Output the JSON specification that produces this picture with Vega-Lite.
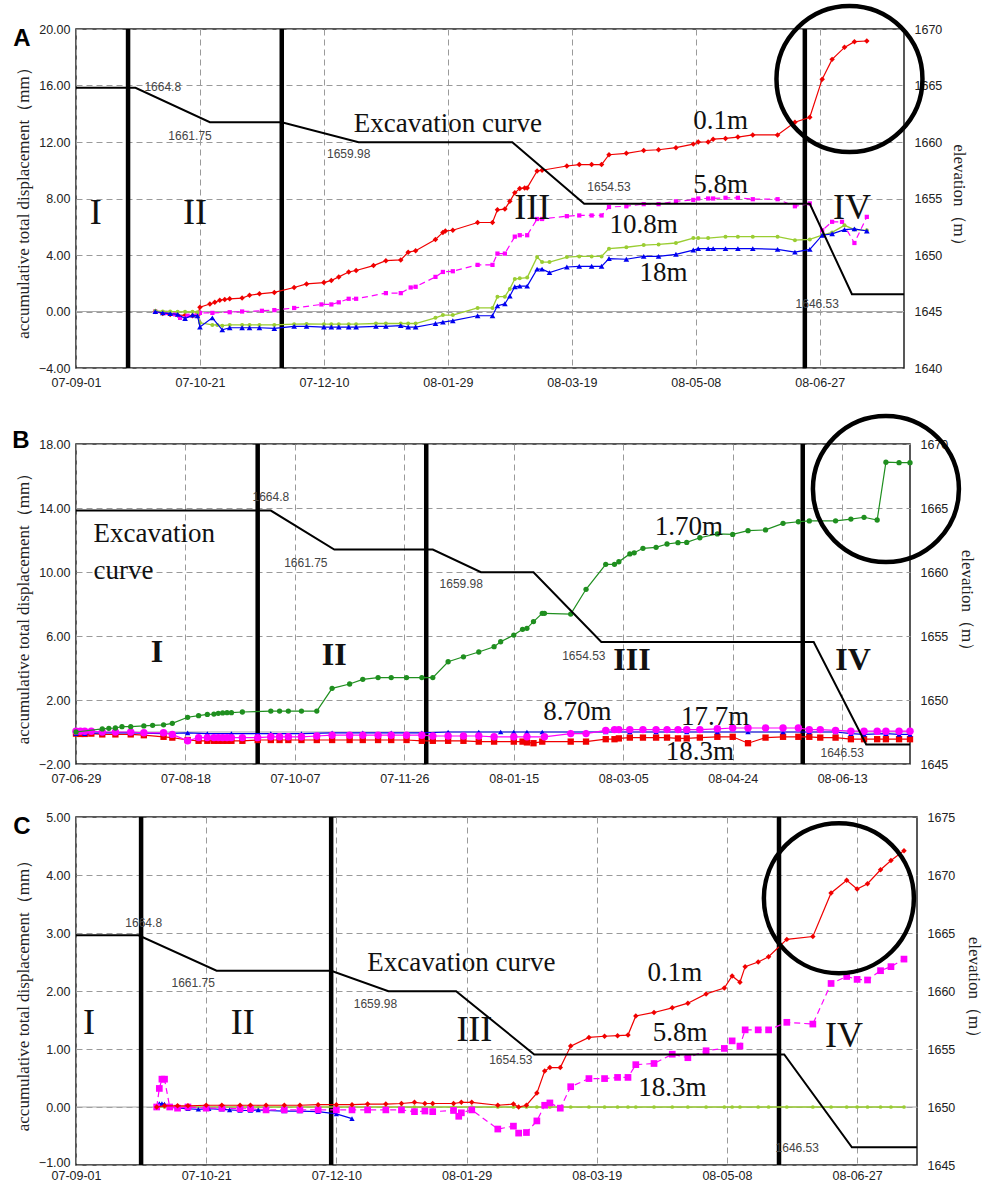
{
  "$schema": "https://vega.github.io/schema/vega-lite/v6.json",
  "padding": {"left": 11, "top": -4, "right": 5, "bottom": 0},
  "background": "white",
  "bounds": "flush",
  "spacing": 76,
  "config": {
    "view": {"stroke": "#222", "strokeWidth": 1.5},
    "axis": {"labelFont": "Liberation Sans", "labelFontSize": 12.5, "labelColor": "#222", "titleFont": "Liberation Serif", "titleFontSize": 17, "titleFontWeight": "normal", "titleColor": "#222", "ticks": false, "tickSize": 0, "domain": false, "gridColor": "#9a9a9a", "gridDash": [6, 4], "gridWidth": 1, "labelPadding": 6, "labelFlush": false, "labelOverlap": false},
    "text": {"font": "Liberation Serif", "color": "#111"}
  },
  "vconcat": [
    {
      "width": 828, "height": 339,
      "resolve": {"scale": {"y": "independent"}},
      "layer": [
        {
          "layer": [
            {"data": {"values": [{"v": 0}]}, "mark": {"type": "rule", "color": "#aaa", "strokeWidth": 1.2},
             "encoding": {"y": {"field": "v", "type": "quantitative", "scale": {"domain": [-4, 20], "nice": false, "zero": false}, "axis": {"values": [-4, 0, 4, 8, 12, 16, 20], "format": ".2f", "title": "accumulative total displacement（mm）", "grid": true, "titlePadding": 6}}}},
            {"data": {"values": [{"t": "2007-09-22"}, {"t": "2007-11-23"}, {"t": "2008-06-21"}]}, "mark": {"type": "rule", "color": "#000", "strokeWidth": 4.5},
             "encoding": {"x": {"field": "t", "type": "temporal", "scale": {"type": "utc", "domain": [{"year": 2007, "month": 9, "date": 1, "utc": true}, {"year": 2008, "month": 7, "date": 31, "utc": true}]}, "axis": {"values": [{"year": 2007, "month": 9, "date": 1, "utc": true}, {"year": 2007, "month": 10, "date": 21, "utc": true}, {"year": 2007, "month": 12, "date": 10, "utc": true}, {"year": 2008, "month": 1, "date": 29, "utc": true}, {"year": 2008, "month": 3, "date": 19, "utc": true}, {"year": 2008, "month": 5, "date": 8, "utc": true}, {"year": 2008, "month": 6, "date": 27, "utc": true}], "format": "%y-%m-%d", "title": null, "grid": true, "labelPadding": 8}}}},
            {"data": {"values": [{"t":"2007-10-03","v":0.0},{"t":"2007-10-06","v":-0.15},{"t":"2007-10-09","v":-0.22},{"t":"2007-10-12","v":-0.25},{"t":"2007-10-15","v":-0.27},{"t":"2007-10-18","v":-0.3},{"t":"2007-10-20","v":-0.3},{"t":"2007-10-21","v":0.3},{"t":"2007-10-25","v":0.53},{"t":"2007-10-27","v":0.65},{"t":"2007-10-29","v":0.8},{"t":"2007-10-31","v":0.85},{"t":"2007-11-02","v":0.9},{"t":"2007-11-07","v":0.95},{"t":"2007-11-10","v":1.15},{"t":"2007-11-14","v":1.25},{"t":"2007-11-20","v":1.35},{"t":"2007-11-28","v":1.7},{"t":"2007-12-03","v":1.95},{"t":"2007-12-10","v":2.05},{"t":"2007-12-13","v":2.2},{"t":"2007-12-16","v":2.45},{"t":"2007-12-20","v":2.8},{"t":"2007-12-23","v":2.9},{"t":"2007-12-30","v":3.25},{"t":"2008-01-04","v":3.6},{"t":"2008-01-10","v":3.65},{"t":"2008-01-13","v":4.2},{"t":"2008-01-16","v":4.3},{"t":"2008-01-24","v":5.1},{"t":"2008-01-27","v":5.6},{"t":"2008-01-28","v":5.7},{"t":"2008-01-31","v":5.75},{"t":"2008-02-10","v":6.3},{"t":"2008-02-16","v":6.3},{"t":"2008-02-18","v":7.2},{"t":"2008-02-21","v":7.25},{"t":"2008-02-23","v":7.8},{"t":"2008-02-25","v":8.4},{"t":"2008-02-27","v":8.7},{"t":"2008-02-29","v":8.75},{"t":"2008-03-01","v":8.75},{"t":"2008-03-05","v":9.95},{"t":"2008-03-07","v":10.0},{"t":"2008-03-17","v":10.3},{"t":"2008-03-22","v":10.4},{"t":"2008-03-27","v":10.4},{"t":"2008-03-31","v":10.4},{"t":"2008-04-03","v":11.1},{"t":"2008-04-10","v":11.2},{"t":"2008-04-17","v":11.4},{"t":"2008-04-23","v":11.45},{"t":"2008-04-30","v":11.6},{"t":"2008-05-07","v":11.85},{"t":"2008-05-09","v":12.0},{"t":"2008-05-13","v":12.0},{"t":"2008-05-15","v":12.2},{"t":"2008-05-20","v":12.25},{"t":"2008-05-25","v":12.35},{"t":"2008-05-31","v":12.5},{"t":"2008-06-10","v":12.5},{"t":"2008-06-17","v":13.4},{"t":"2008-06-23","v":13.75},{"t":"2008-06-28","v":16.45},{"t":"2008-07-02","v":17.85},{"t":"2008-07-07","v":18.7},{"t":"2008-07-11","v":19.1},{"t":"2008-07-16","v":19.15}]},
             "mark": {"type": "line", "color": "#f00000", "strokeWidth": 1.2, "point": {"shape": "diamond", "filled": true, "size": 30, "color": "#f00000"}},
             "encoding": {"x": {"field": "t", "type": "temporal"}, "y": {"field": "v", "type": "quantitative"}}},
            {"data": {"values": [{"t":"2007-10-03","v":0.0},{"t":"2007-10-07","v":-0.1},{"t":"2007-10-11","v":-0.2},{"t":"2007-10-13","v":-0.45},{"t":"2007-10-16","v":-0.3},{"t":"2007-10-20","v":-0.15},{"t":"2007-10-21","v":-0.1},{"t":"2007-10-26","v":-0.1},{"t":"2007-11-02","v":-0.05},{"t":"2007-11-07","v":0.0},{"t":"2007-11-15","v":0.05},{"t":"2007-11-20","v":0.1},{"t":"2007-11-28","v":0.25},{"t":"2007-12-09","v":0.5},{"t":"2007-12-13","v":0.5},{"t":"2007-12-16","v":0.65},{"t":"2007-12-20","v":0.9},{"t":"2007-12-23","v":0.9},{"t":"2008-01-04","v":1.3},{"t":"2008-01-10","v":1.3},{"t":"2008-01-14","v":1.7},{"t":"2008-01-16","v":1.75},{"t":"2008-01-24","v":2.45},{"t":"2008-01-27","v":2.8},{"t":"2008-01-31","v":2.85},{"t":"2008-02-10","v":3.3},{"t":"2008-02-16","v":3.3},{"t":"2008-02-18","v":4.1},{"t":"2008-02-21","v":4.1},{"t":"2008-02-25","v":5.3},{"t":"2008-02-27","v":5.4},{"t":"2008-03-01","v":5.4},{"t":"2008-03-05","v":6.55},{"t":"2008-03-07","v":6.55},{"t":"2008-03-17","v":6.75},{"t":"2008-03-22","v":6.8},{"t":"2008-03-27","v":6.8},{"t":"2008-03-31","v":6.8},{"t":"2008-04-03","v":7.4},{"t":"2008-04-10","v":7.45},{"t":"2008-04-17","v":7.6},{"t":"2008-04-23","v":7.6},{"t":"2008-04-30","v":7.8},{"t":"2008-05-07","v":7.9},{"t":"2008-05-09","v":8.0},{"t":"2008-05-13","v":8.0},{"t":"2008-05-15","v":8.0},{"t":"2008-05-20","v":8.05},{"t":"2008-05-25","v":8.05},{"t":"2008-05-31","v":7.95},{"t":"2008-06-10","v":7.95},{"t":"2008-06-17","v":7.45},{"t":"2008-06-23","v":7.65},{"t":"2008-06-28","v":5.75},{"t":"2008-07-02","v":6.35},{"t":"2008-07-06","v":6.35},{"t":"2008-07-11","v":4.85},{"t":"2008-07-16","v":6.7}]},
             "mark": {"type": "line", "color": "#ff00ff", "strokeWidth": 1.2, "strokeDash": [6, 4], "point": {"shape": "square", "filled": true, "size": 18, "color": "#ff00ff"}},
             "encoding": {"x": {"field": "t", "type": "temporal"}, "y": {"field": "v", "type": "quantitative"}}},
            {"data": {"values": [{"t":"2007-10-03","v":0.05},{"t":"2007-10-06","v":0.0},{"t":"2007-10-09","v":0.0},{"t":"2007-10-12","v":-0.02},{"t":"2007-10-15","v":-0.02},{"t":"2007-10-18","v":-0.02},{"t":"2007-10-20","v":-0.05},{"t":"2007-10-21","v":-0.8},{"t":"2007-10-26","v":-0.95},{"t":"2007-10-28","v":-0.95},{"t":"2007-10-30","v":-1.0},{"t":"2007-11-02","v":-0.95},{"t":"2007-11-07","v":-0.95},{"t":"2007-11-10","v":-0.95},{"t":"2007-11-14","v":-0.95},{"t":"2007-11-20","v":-0.95},{"t":"2007-11-28","v":-0.9},{"t":"2007-12-03","v":-0.88},{"t":"2007-12-10","v":-0.9},{"t":"2007-12-13","v":-0.9},{"t":"2007-12-16","v":-0.9},{"t":"2007-12-20","v":-0.9},{"t":"2007-12-23","v":-0.9},{"t":"2007-12-31","v":-0.85},{"t":"2008-01-04","v":-0.85},{"t":"2008-01-10","v":-0.85},{"t":"2008-01-13","v":-0.85},{"t":"2008-01-16","v":-0.85},{"t":"2008-01-24","v":-0.45},{"t":"2008-01-27","v":-0.25},{"t":"2008-01-31","v":-0.25},{"t":"2008-02-10","v":0.25},{"t":"2008-02-16","v":0.25},{"t":"2008-02-18","v":1.05},{"t":"2008-02-21","v":1.05},{"t":"2008-02-23","v":1.6},{"t":"2008-02-25","v":2.3},{"t":"2008-02-27","v":2.35},{"t":"2008-03-01","v":2.4},{"t":"2008-03-05","v":3.85},{"t":"2008-03-07","v":3.5},{"t":"2008-03-10","v":3.5},{"t":"2008-03-17","v":3.85},{"t":"2008-03-22","v":3.9},{"t":"2008-03-27","v":3.9},{"t":"2008-03-31","v":3.9},{"t":"2008-04-03","v":4.45},{"t":"2008-04-10","v":4.55},{"t":"2008-04-17","v":4.7},{"t":"2008-04-23","v":4.75},{"t":"2008-04-30","v":4.85},{"t":"2008-05-07","v":5.2},{"t":"2008-05-09","v":5.2},{"t":"2008-05-13","v":5.2},{"t":"2008-05-20","v":5.3},{"t":"2008-05-25","v":5.3},{"t":"2008-05-31","v":5.3},{"t":"2008-06-10","v":5.3},{"t":"2008-06-17","v":5.05},{"t":"2008-06-23","v":5.1},{"t":"2008-06-28","v":5.4},{"t":"2008-07-02","v":5.6},{"t":"2008-07-07","v":6.1},{"t":"2008-07-11","v":5.8},{"t":"2008-07-16","v":5.75}]},
             "mark": {"type": "line", "color": "#9acd32", "strokeWidth": 1.3, "point": {"shape": "circle", "filled": true, "size": 16, "color": "#9acd32"}},
             "encoding": {"x": {"field": "t", "type": "temporal"}, "y": {"field": "v", "type": "quantitative"}}},
            {"data": {"values": [{"t":"2007-10-03","v":0.0},{"t":"2007-10-06","v":-0.1},{"t":"2007-10-09","v":-0.15},{"t":"2007-10-12","v":-0.2},{"t":"2007-10-15","v":-0.5},{"t":"2007-10-18","v":-0.25},{"t":"2007-10-20","v":-0.3},{"t":"2007-10-21","v":-1.1},{"t":"2007-10-26","v":-0.45},{"t":"2007-10-30","v":-1.3},{"t":"2007-11-02","v":-1.15},{"t":"2007-11-07","v":-1.15},{"t":"2007-11-10","v":-1.15},{"t":"2007-11-14","v":-1.15},{"t":"2007-11-20","v":-1.2},{"t":"2007-11-28","v":-1.05},{"t":"2007-12-03","v":-1.05},{"t":"2007-12-10","v":-1.1},{"t":"2007-12-13","v":-1.1},{"t":"2007-12-16","v":-1.1},{"t":"2007-12-20","v":-1.1},{"t":"2007-12-23","v":-1.1},{"t":"2007-12-31","v":-1.05},{"t":"2008-01-04","v":-1.05},{"t":"2008-01-10","v":-1.0},{"t":"2008-01-13","v":-1.1},{"t":"2008-01-16","v":-1.1},{"t":"2008-01-24","v":-0.85},{"t":"2008-01-27","v":-0.75},{"t":"2008-01-31","v":-0.65},{"t":"2008-02-10","v":-0.3},{"t":"2008-02-16","v":-0.3},{"t":"2008-02-18","v":0.4},{"t":"2008-02-21","v":0.55},{"t":"2008-02-23","v":1.1},{"t":"2008-02-25","v":1.75},{"t":"2008-02-27","v":1.8},{"t":"2008-03-01","v":1.8},{"t":"2008-03-05","v":3.0},{"t":"2008-03-07","v":3.0},{"t":"2008-03-10","v":2.75},{"t":"2008-03-17","v":3.15},{"t":"2008-03-22","v":3.2},{"t":"2008-03-27","v":3.2},{"t":"2008-03-31","v":3.2},{"t":"2008-04-03","v":3.75},{"t":"2008-04-10","v":3.7},{"t":"2008-04-17","v":3.9},{"t":"2008-04-23","v":3.9},{"t":"2008-04-30","v":4.05},{"t":"2008-05-07","v":4.35},{"t":"2008-05-09","v":4.45},{"t":"2008-05-13","v":4.45},{"t":"2008-05-15","v":4.45},{"t":"2008-05-20","v":4.45},{"t":"2008-05-25","v":4.45},{"t":"2008-05-31","v":4.45},{"t":"2008-06-10","v":4.4},{"t":"2008-06-17","v":4.2},{"t":"2008-06-23","v":4.4},{"t":"2008-06-28","v":5.4},{"t":"2008-07-02","v":5.5},{"t":"2008-07-07","v":5.8},{"t":"2008-07-11","v":5.85},{"t":"2008-07-16","v":5.7}]},
             "mark": {"type": "line", "color": "#0000f0", "strokeWidth": 1.2, "point": {"shape": "triangle-up", "filled": true, "size": 32, "color": "#0000f0"}},
             "encoding": {"x": {"field": "t", "type": "temporal"}, "y": {"field": "v", "type": "quantitative"}}},
            {"data": {"values": [{"t":"2007-09-09","v":7.0,"label":"I"},{"t":"2007-10-19","v":7.0,"label":"II"},{"t":"2008-03-03","v":7.3,"label":"III"},{"t":"2008-07-10","v":7.3,"label":"IV"}]},
             "mark": {"type": "text", "fontSize": 36, "align": "center", "baseline": "middle"},
             "encoding": {"x": {"field": "t", "type": "temporal"}, "y": {"field": "v", "type": "quantitative"}, "text": {"field": "label"}}},
            {"data": {"values": [{"t":"2008-01-29","v":13.27,"label":"Excavation curve"},{"t":"2008-05-18","v":13.5,"label":"0.1m"},{"t":"2008-05-18","v":8.95,"label":"5.8m"},{"t":"2008-04-17","v":6.1,"label":"10.8m"},{"t":"2008-04-25","v":2.73,"label":"18m"}]},
             "mark": {"type": "text", "fontSize": 27, "align": "center", "baseline": "middle"},
             "encoding": {"x": {"field": "t", "type": "temporal"}, "y": {"field": "v", "type": "quantitative"}, "text": {"field": "label"}}},
            {"data": {"values": [{"t":"2007-10-06","v":15.9,"label":"1664.8"},{"t":"2007-10-17","v":12.4,"label":"1661.75"},{"t":"2007-12-20","v":11.15,"label":"1659.98"},{"t":"2008-04-03","v":8.8,"label":"1654.53"},{"t":"2008-06-26","v":0.53,"label":"1646.53"}]},
             "mark": {"type": "text", "font": "Liberation Sans", "fontSize": 12, "color": "#444", "align": "center", "baseline": "middle"},
             "encoding": {"x": {"field": "t", "type": "temporal"}, "y": {"field": "v", "type": "quantitative"}, "text": {"field": "label"}}},
            {"data": {"values": [{"t":"2008-07-09","v":16.46}]},
             "mark": {"type": "point", "shape": "circle", "filled": false, "size": 21316, "stroke": "#000", "strokeWidth": 4.5, "opacity": 1},
             "encoding": {"x": {"field": "t", "type": "temporal"}, "y": {"field": "v", "type": "quantitative"}}},
            {"data": {"values": [{"t":"2007-09-01","v":20,"label":"A"}]},
             "mark": {"type": "text", "font": "Liberation Sans", "fontWeight": "bold", "fontSize": 24, "color": "#000", "align": "center", "baseline": "middle", "dx": -54, "dy": 10},
             "encoding": {"x": {"field": "t", "type": "temporal"}, "y": {"field": "v", "type": "quantitative"}, "text": {"field": "label"}}}
          ]
        },
        {"data": {"values": [{"t":"2007-09-01","e":1664.8},{"t":"2007-09-25","e":1664.8},{"t":"2007-10-25","e":1661.75},{"t":"2007-11-23","e":1661.75},{"t":"2007-12-24","e":1659.98},{"t":"2008-02-24","e":1659.98},{"t":"2008-03-24","e":1654.53},{"t":"2008-06-23","e":1654.53},{"t":"2008-07-10","e":1646.53},{"t":"2008-07-31","e":1646.53}]},
         "mark": {"type": "line", "color": "#000", "strokeWidth": 2},
         "encoding": {"x": {"field": "t", "type": "temporal"}, "y": {"field": "e", "type": "quantitative", "scale": {"domain": [1640, 1670], "nice": false, "zero": false}, "axis": {"orient": "right", "values": [1640, 1645, 1650, 1655, 1660, 1665, 1670], "format": "d", "title": "elevation（m）", "grid": false, "labelPadding": 10, "titlePadding": 8}}}}
      ]
    },
    {
      "bounds": "flush",
      "spacing": 53,
      "vconcat": [
        {
          "width": 834, "height": 320,
          "resolve": {"scale": {"y": "independent"}},
          "layer": [
            {
              "layer": [
                {"data": {"values": [{"v": 0}]}, "mark": {"type": "rule", "color": "#aaa", "strokeWidth": 1.2},
                 "encoding": {"y": {"field": "v", "type": "quantitative", "scale": {"domain": [-2, 18], "nice": false, "zero": false}, "axis": {"values": [-2, 2, 6, 10, 14, 18], "format": ".2f", "title": "accumulative total displacement（mm）", "grid": true, "titlePadding": 6}}}},
                {"data": {"values": [{"t": "2007-09-20"}, {"t": "2007-12-06"}, {"t": "2008-05-26"}]}, "mark": {"type": "rule", "color": "#000", "strokeWidth": 4.5},
                 "encoding": {"x": {"field": "t", "type": "temporal", "scale": {"type": "utc", "domain": [{"year": 2007, "month": 6, "date": 29, "utc": true}, {"year": 2008, "month": 7, "date": 14, "utc": true}]}, "axis": {"values": [{"year": 2007, "month": 6, "date": 29, "utc": true}, {"year": 2007, "month": 8, "date": 18, "utc": true}, {"year": 2007, "month": 10, "date": 7, "utc": true}, {"year": 2007, "month": 11, "date": 26, "utc": true}, {"year": 2008, "month": 1, "date": 15, "utc": true}, {"year": 2008, "month": 3, "date": 5, "utc": true}, {"year": 2008, "month": 4, "date": 24, "utc": true}, {"year": 2008, "month": 6, "date": 13, "utc": true}], "format": "%y-%m-%d", "title": null, "grid": true, "labelPadding": 8}}}},
                {"data": {"values": [{"t":"2007-06-29","v":-0.1},{"t":"2007-07-01","v":-0.12},{"t":"2007-07-03","v":-0.12},{"t":"2007-07-06","v":-0.1},{"t":"2007-07-11","v":-0.15},{"t":"2007-07-17","v":-0.15},{"t":"2007-07-24","v":-0.15},{"t":"2007-07-30","v":-0.2},{"t":"2007-08-08","v":-0.3},{"t":"2007-08-12","v":-0.35},{"t":"2007-08-19","v":-0.5},{"t":"2007-08-24","v":-0.55},{"t":"2007-08-28","v":-0.55},{"t":"2007-08-31","v":-0.55},{"t":"2007-09-02","v":-0.55},{"t":"2007-09-04","v":-0.55},{"t":"2007-09-06","v":-0.55},{"t":"2007-09-08","v":-0.55},{"t":"2007-09-13","v":-0.55},{"t":"2007-09-20","v":-0.5},{"t":"2007-09-26","v":-0.5},{"t":"2007-09-30","v":-0.5},{"t":"2007-10-04","v":-0.5},{"t":"2007-10-10","v":-0.5},{"t":"2007-10-17","v":-0.5},{"t":"2007-10-24","v":-0.5},{"t":"2007-11-01","v":-0.5},{"t":"2007-11-07","v":-0.5},{"t":"2007-11-14","v":-0.5},{"t":"2007-11-20","v":-0.5},{"t":"2007-11-27","v":-0.5},{"t":"2007-12-04","v":-0.55},{"t":"2007-12-09","v":-0.55},{"t":"2007-12-16","v":-0.55},{"t":"2007-12-23","v":-0.55},{"t":"2007-12-30","v":-0.6},{"t":"2008-01-06","v":-0.6},{"t":"2008-01-15","v":-0.6},{"t":"2008-01-19","v":-0.6},{"t":"2008-01-21","v":-0.65},{"t":"2008-01-24","v":-0.7},{"t":"2008-01-28","v":-0.6},{"t":"2008-02-10","v":-0.6},{"t":"2008-02-17","v":-0.6},{"t":"2008-02-26","v":-0.45},{"t":"2008-03-01","v":-0.45},{"t":"2008-03-03","v":-0.4},{"t":"2008-03-08","v":-0.35},{"t":"2008-03-14","v":-0.35},{"t":"2008-03-20","v":-0.35},{"t":"2008-03-25","v":-0.35},{"t":"2008-03-30","v":-0.4},{"t":"2008-04-03","v":-0.4},{"t":"2008-04-09","v":-0.35},{"t":"2008-04-17","v":-0.3},{"t":"2008-04-24","v":-0.3},{"t":"2008-05-01","v":-0.7},{"t":"2008-05-09","v":-0.35},{"t":"2008-05-17","v":-0.3},{"t":"2008-05-24","v":-0.3},{"t":"2008-05-29","v":-0.3},{"t":"2008-06-03","v":-0.35},{"t":"2008-06-10","v":-0.35},{"t":"2008-06-17","v":-0.45},{"t":"2008-06-23","v":-0.45},{"t":"2008-06-29","v":-0.45},{"t":"2008-07-03","v":-0.45},{"t":"2008-07-09","v":-0.45},{"t":"2008-07-14","v":-0.45}]},
                 "mark": {"type": "line", "color": "#f00000", "strokeWidth": 1.2, "point": {"shape": "square", "filled": true, "size": 40, "color": "#f00000"}},
                 "encoding": {"x": {"field": "t", "type": "temporal"}, "y": {"field": "v", "type": "quantitative"}}},
                {"data": {"values": [{"t":"2007-06-29","v":-0.1},{"t":"2007-07-03","v":-0.1},{"t":"2007-07-11","v":-0.05},{"t":"2007-07-24","v":-0.05},{"t":"2007-08-08","v":-0.1},{"t":"2007-08-19","v":-0.05},{"t":"2007-08-28","v":-0.1},{"t":"2007-09-08","v":-0.1},{"t":"2007-09-26","v":-0.1},{"t":"2007-10-10","v":-0.1},{"t":"2007-10-24","v":-0.05},{"t":"2007-11-07","v":-0.05},{"t":"2007-11-20","v":-0.05},{"t":"2007-12-04","v":-0.05},{"t":"2007-12-16","v":0.0},{"t":"2007-12-30","v":0.0},{"t":"2008-01-09","v":0.0},{"t":"2008-01-15","v":0.0},{"t":"2008-01-21","v":0.0},{"t":"2008-01-28","v":0.0},{"t":"2008-02-10","v":0.0},{"t":"2008-02-17","v":0.0},{"t":"2008-02-26","v":0.0},{"t":"2008-03-08","v":0.0},{"t":"2008-03-20","v":0.0},{"t":"2008-04-03","v":0.0},{"t":"2008-04-17","v":0.0},{"t":"2008-05-01","v":0.0},{"t":"2008-05-17","v":0.0},{"t":"2008-05-29","v":0.0},{"t":"2008-06-10","v":0.0},{"t":"2008-06-17","v":-0.1},{"t":"2008-06-23","v":-0.15},{"t":"2008-07-03","v":-0.1},{"t":"2008-07-09","v":-0.15},{"t":"2008-07-14","v":-0.15}]},
                 "mark": {"type": "line", "color": "#0000f0", "strokeWidth": 1.2, "point": {"shape": "triangle-up", "filled": true, "size": 30, "color": "#0000f0"}},
                 "encoding": {"x": {"field": "t", "type": "temporal"}, "y": {"field": "v", "type": "quantitative"}}},
                {"data": {"values": [{"t":"2007-06-29","v":0.05},{"t":"2007-07-01","v":0.05},{"t":"2007-07-03","v":0.05},{"t":"2007-07-06","v":0.05},{"t":"2007-07-11","v":0.0},{"t":"2007-07-17","v":0.0},{"t":"2007-07-24","v":0.0},{"t":"2007-07-30","v":-0.05},{"t":"2007-08-08","v":-0.05},{"t":"2007-08-12","v":-0.15},{"t":"2007-08-19","v":-0.55},{"t":"2007-08-24","v":-0.35},{"t":"2007-08-28","v":-0.35},{"t":"2007-08-31","v":-0.35},{"t":"2007-09-02","v":-0.35},{"t":"2007-09-04","v":-0.35},{"t":"2007-09-06","v":-0.35},{"t":"2007-09-08","v":-0.35},{"t":"2007-09-13","v":-0.35},{"t":"2007-09-20","v":-0.35},{"t":"2007-09-26","v":-0.3},{"t":"2007-09-30","v":-0.3},{"t":"2007-10-04","v":-0.3},{"t":"2007-10-10","v":-0.3},{"t":"2007-10-17","v":-0.25},{"t":"2007-10-24","v":-0.2},{"t":"2007-11-01","v":-0.2},{"t":"2007-11-07","v":-0.2},{"t":"2007-11-14","v":-0.2},{"t":"2007-11-20","v":-0.2},{"t":"2007-11-27","v":-0.2},{"t":"2007-12-04","v":-0.2},{"t":"2007-12-09","v":-0.25},{"t":"2007-12-16","v":-0.25},{"t":"2007-12-23","v":-0.25},{"t":"2007-12-30","v":-0.25},{"t":"2008-01-06","v":-0.3},{"t":"2008-01-15","v":-0.3},{"t":"2008-01-21","v":-0.3},{"t":"2008-01-29","v":-0.3},{"t":"2008-02-10","v":-0.1},{"t":"2008-02-17","v":-0.1},{"t":"2008-02-26","v":0.1},{"t":"2008-03-01","v":0.15},{"t":"2008-03-03","v":0.15},{"t":"2008-03-08","v":0.15},{"t":"2008-03-14","v":0.15},{"t":"2008-03-20","v":0.15},{"t":"2008-03-25","v":0.15},{"t":"2008-03-30","v":0.15},{"t":"2008-04-03","v":0.15},{"t":"2008-04-09","v":0.15},{"t":"2008-04-17","v":0.2},{"t":"2008-04-24","v":0.25},{"t":"2008-05-01","v":0.25},{"t":"2008-05-09","v":0.25},{"t":"2008-05-17","v":0.25},{"t":"2008-05-24","v":0.25},{"t":"2008-05-29","v":0.15},{"t":"2008-06-03","v":0.15},{"t":"2008-06-10","v":0.1},{"t":"2008-06-17","v":0.05},{"t":"2008-06-23","v":0.05},{"t":"2008-06-29","v":0.05},{"t":"2008-07-03","v":0.05},{"t":"2008-07-09","v":0.05},{"t":"2008-07-14","v":0.05}]},
                 "mark": {"type": "line", "color": "#ff00ff", "strokeWidth": 1.2, "point": {"shape": "circle", "filled": true, "size": 55, "color": "#ff00ff"}},
                 "encoding": {"x": {"field": "t", "type": "temporal"}, "y": {"field": "v", "type": "quantitative"}}},
                {"data": {"values": [{"t":"2007-06-29","v":0.0},{"t":"2007-07-11","v":0.19},{"t":"2007-07-14","v":0.23},{"t":"2007-07-17","v":0.25},{"t":"2007-07-20","v":0.33},{"t":"2007-07-24","v":0.33},{"t":"2007-07-30","v":0.38},{"t":"2007-08-03","v":0.42},{"t":"2007-08-08","v":0.45},{"t":"2007-08-12","v":0.54},{"t":"2007-08-19","v":0.92},{"t":"2007-08-24","v":1.02},{"t":"2007-08-28","v":1.1},{"t":"2007-08-31","v":1.12},{"t":"2007-09-02","v":1.17},{"t":"2007-09-04","v":1.19},{"t":"2007-09-06","v":1.21},{"t":"2007-09-08","v":1.21},{"t":"2007-09-13","v":1.25},{"t":"2007-09-26","v":1.31},{"t":"2007-09-30","v":1.31},{"t":"2007-10-04","v":1.31},{"t":"2007-10-10","v":1.31},{"t":"2007-10-17","v":1.31},{"t":"2007-10-24","v":2.73},{"t":"2007-11-01","v":3.0},{"t":"2007-11-07","v":3.29},{"t":"2007-11-14","v":3.4},{"t":"2007-11-20","v":3.4},{"t":"2007-11-27","v":3.4},{"t":"2007-12-04","v":3.4},{"t":"2007-12-09","v":3.4},{"t":"2007-12-16","v":4.39},{"t":"2007-12-23","v":4.7},{"t":"2007-12-30","v":5.0},{"t":"2008-01-06","v":5.33},{"t":"2008-01-09","v":5.64},{"t":"2008-01-15","v":6.06},{"t":"2008-01-19","v":6.42},{"t":"2008-01-21","v":6.48},{"t":"2008-01-24","v":6.9},{"t":"2008-01-28","v":7.42},{"t":"2008-01-29","v":7.42},{"t":"2008-02-10","v":7.37},{"t":"2008-02-17","v":8.92},{"t":"2008-02-26","v":10.48},{"t":"2008-03-01","v":10.48},{"t":"2008-03-03","v":10.64},{"t":"2008-03-08","v":11.13},{"t":"2008-03-10","v":11.2},{"t":"2008-03-14","v":11.48},{"t":"2008-03-20","v":11.54},{"t":"2008-03-25","v":11.75},{"t":"2008-03-30","v":11.83},{"t":"2008-04-03","v":11.85},{"t":"2008-04-09","v":12.14},{"t":"2008-04-17","v":12.38},{"t":"2008-04-24","v":12.35},{"t":"2008-05-01","v":12.58},{"t":"2008-05-09","v":12.63},{"t":"2008-05-17","v":13.04},{"t":"2008-05-24","v":13.14},{"t":"2008-05-29","v":13.19},{"t":"2008-06-10","v":13.2},{"t":"2008-06-17","v":13.31},{"t":"2008-06-23","v":13.42},{"t":"2008-06-29","v":13.25},{"t":"2008-07-03","v":16.86},{"t":"2008-07-09","v":16.83},{"t":"2008-07-14","v":16.83}]},
                 "mark": {"type": "line", "color": "#1f8f1f", "strokeWidth": 1.2, "point": {"shape": "circle", "filled": true, "size": 28, "color": "#1f8f1f"}},
                 "encoding": {"x": {"field": "t", "type": "temporal"}, "y": {"field": "v", "type": "quantitative"}}},
                {"data": {"values": [{"t":"2007-08-05","v":5.0,"label":"I"},{"t":"2007-10-25","v":4.81,"label":"II"},{"t":"2008-03-09","v":4.5,"label":"III"},{"t":"2008-06-18","v":4.5,"label":"IV"}]},
                 "mark": {"type": "text", "fontSize": 32, "fontWeight": "bold", "align": "center", "baseline": "middle"},
                 "encoding": {"x": {"field": "t", "type": "temporal"}, "y": {"field": "v", "type": "quantitative"}, "text": {"field": "label"}}},
                {"data": {"values": [{"t":"2007-07-07","v":12.4,"label":"Excavation\ncurve"}]},
                 "mark": {"type": "text", "fontSize": 27, "align": "left", "baseline": "middle", "lineBreak": "\n", "lineHeight": 37},
                 "encoding": {"x": {"field": "t", "type": "temporal"}, "y": {"field": "v", "type": "quantitative"}, "text": {"field": "label"}}},
                {"data": {"values": [{"t":"2008-04-04","v":12.81,"label":"1.70m"},{"t":"2008-02-13","v":1.25,"label":"8.70m"},{"t":"2008-04-16","v":0.94,"label":"17.7m"},{"t":"2008-04-09","v":-1.25,"label":"18.3m"}]},
                 "mark": {"type": "text", "fontSize": 27, "align": "center", "baseline": "middle"},
                 "encoding": {"x": {"field": "t", "type": "temporal"}, "y": {"field": "v", "type": "quantitative"}, "text": {"field": "label"}}},
                {"data": {"values": [{"t":"2007-09-26","v":14.69,"label":"1664.8"},{"t":"2007-10-12","v":10.56,"label":"1661.75"},{"t":"2007-12-22","v":9.25,"label":"1659.98"},{"t":"2008-02-16","v":4.75,"label":"1654.53"},{"t":"2008-06-13","v":-1.31,"label":"1646.53"}]},
                 "mark": {"type": "text", "font": "Liberation Sans", "fontSize": 12, "color": "#444", "align": "center", "baseline": "middle"},
                 "encoding": {"x": {"field": "t", "type": "temporal"}, "y": {"field": "v", "type": "quantitative"}, "text": {"field": "label"}}},
                {"data": {"values": [{"t":"2008-07-03","v":15.19}]},
                 "mark": {"type": "point", "shape": "circle", "filled": false, "size": 21316, "stroke": "#000", "strokeWidth": 4.5, "opacity": 1},
                 "encoding": {"x": {"field": "t", "type": "temporal"}, "y": {"field": "v", "type": "quantitative"}}},
                {"data": {"values": [{"t":"2007-06-29","v":18,"label":"B"}]},
                 "mark": {"type": "text", "font": "Liberation Sans", "fontWeight": "bold", "fontSize": 24, "color": "#000", "align": "center", "baseline": "middle", "dx": -55, "dy": -3},
                 "encoding": {"x": {"field": "t", "type": "temporal"}, "y": {"field": "v", "type": "quantitative"}, "text": {"field": "label"}}}
              ]
            },
            {"data": {"values": [{"t":"2007-06-29","e":1664.8},{"t":"2007-09-26","e":1664.8},{"t":"2007-10-25","e":1661.75},{"t":"2007-12-09","e":1661.75},{"t":"2007-12-31","e":1659.98},{"t":"2008-01-24","e":1659.98},{"t":"2008-02-24","e":1654.53},{"t":"2008-05-31","e":1654.53},{"t":"2008-06-24","e":1646.53},{"t":"2008-07-14","e":1646.53}]},
             "mark": {"type": "line", "color": "#000", "strokeWidth": 2},
             "encoding": {"x": {"field": "t", "type": "temporal"}, "y": {"field": "e", "type": "quantitative", "scale": {"domain": [1645, 1670], "nice": false, "zero": false}, "axis": {"orient": "right", "values": [1645, 1650, 1655, 1660, 1665, 1670], "format": "d", "title": "elevation（m）", "grid": false, "labelPadding": 10, "titlePadding": 10}}}}
          ]
        },
        {
          "width": 841, "height": 348,
          "resolve": {"scale": {"y": "independent"}},
          "layer": [
            {
              "layer": [
                {"data": {"values": [{"v": 0}]}, "mark": {"type": "rule", "color": "#aaa", "strokeWidth": 1.2},
                 "encoding": {"y": {"field": "v", "type": "quantitative", "scale": {"domain": [-1, 5], "nice": false, "zero": false}, "axis": {"values": [-1, 0, 1, 2, 3, 4, 5], "format": ".2f", "title": "accumulative total displacement（mm）", "grid": true, "titlePadding": 6, "labelOffset": {"condition": {"test": "datum.value === -1", "value": -3}, "value": 0}}}}},
                {"data": {"values": [{"t": "2007-09-26"}, {"t": "2007-12-08"}, {"t": "2008-05-28"}]}, "mark": {"type": "rule", "color": "#000", "strokeWidth": 4.5},
                 "encoding": {"x": {"field": "t", "type": "temporal", "scale": {"type": "utc", "domain": [{"year": 2007, "month": 9, "date": 1, "utc": true}, {"year": 2008, "month": 7, "date": 20, "utc": true}]}, "axis": {"values": [{"year": 2007, "month": 9, "date": 1, "utc": true}, {"year": 2007, "month": 10, "date": 21, "utc": true}, {"year": 2007, "month": 12, "date": 10, "utc": true}, {"year": 2008, "month": 1, "date": 29, "utc": true}, {"year": 2008, "month": 3, "date": 19, "utc": true}, {"year": 2008, "month": 5, "date": 8, "utc": true}, {"year": 2008, "month": 6, "date": 27, "utc": true}], "format": "%y-%m-%d", "title": null, "grid": true, "labelPadding": 4.5}}}},
                {"data": {"values": [{"t":"2007-10-02","v":0.0},{"t":"2007-10-05","v":0.0},{"t":"2007-10-10","v":0.0},{"t":"2007-10-14","v":0.0},{"t":"2007-10-21","v":0.0},{"t":"2007-10-27","v":0.0},{"t":"2007-11-03","v":0.0},{"t":"2007-11-10","v":0.0},{"t":"2007-11-20","v":0.0},{"t":"2007-11-26","v":0.0},{"t":"2007-12-03","v":0.0},{"t":"2007-12-10","v":0.0},{"t":"2007-12-16","v":0.0},{"t":"2007-12-22","v":0.0},{"t":"2007-12-29","v":0.0},{"t":"2008-01-04","v":0.0},{"t":"2008-01-09","v":0.0},{"t":"2008-01-16","v":0.0},{"t":"2008-01-24","v":0.0},{"t":"2008-01-31","v":0.0},{"t":"2008-02-10","v":0.0},{"t":"2008-02-16","v":0.0},{"t":"2008-02-21","v":0.0},{"t":"2008-02-25","v":0.0},{"t":"2008-03-01","v":0.0},{"t":"2008-03-05","v":0.0},{"t":"2008-03-09","v":0.0},{"t":"2008-03-16","v":0.0},{"t":"2008-03-22","v":0.0},{"t":"2008-03-27","v":0.0},{"t":"2008-03-31","v":0.0},{"t":"2008-04-03","v":0.0},{"t":"2008-04-10","v":0.0},{"t":"2008-04-17","v":0.0},{"t":"2008-04-23","v":0.0},{"t":"2008-04-30","v":0.0},{"t":"2008-05-07","v":0.0},{"t":"2008-05-10","v":0.0},{"t":"2008-05-13","v":0.0},{"t":"2008-05-20","v":0.0},{"t":"2008-05-24","v":0.0},{"t":"2008-05-31","v":0.0},{"t":"2008-06-10","v":0.0},{"t":"2008-06-17","v":0.0},{"t":"2008-06-23","v":0.0},{"t":"2008-06-27","v":0.0},{"t":"2008-07-01","v":0.0},{"t":"2008-07-06","v":0.0},{"t":"2008-07-10","v":0.0},{"t":"2008-07-15","v":0.0}]},
                 "mark": {"type": "line", "color": "#9acd32", "strokeWidth": 1.5, "point": {"shape": "circle", "filled": true, "size": 14, "color": "#9acd32"}},
                 "encoding": {"x": {"field": "t", "type": "temporal"}, "y": {"field": "v", "type": "quantitative"}}},
                {"data": {"values": [{"t":"2007-10-02","v":0.0},{"t":"2007-10-03","v":0.06},{"t":"2007-10-04","v":0.06},{"t":"2007-10-05","v":0.05},{"t":"2007-10-07","v":0.0},{"t":"2007-10-10","v":-0.02},{"t":"2007-10-14","v":-0.03},{"t":"2007-10-18","v":-0.04},{"t":"2007-10-22","v":-0.03},{"t":"2007-10-27","v":-0.04},{"t":"2007-10-30","v":-0.05},{"t":"2007-11-03","v":-0.06},{"t":"2007-11-07","v":-0.06},{"t":"2007-11-10","v":-0.05},{"t":"2007-11-13","v":-0.06},{"t":"2007-11-20","v":-0.07},{"t":"2007-11-26","v":-0.07},{"t":"2007-12-03","v":-0.08},{"t":"2007-12-10","v":-0.12},{"t":"2007-12-16","v":-0.2}]},
                 "mark": {"type": "line", "color": "#0000f0", "strokeWidth": 1.2, "point": {"shape": "triangle-up", "filled": true, "size": 28, "color": "#0000f0"}},
                 "encoding": {"x": {"field": "t", "type": "temporal"}, "y": {"field": "v", "type": "quantitative"}}},
                {"data": {"values": [{"t":"2007-10-02","v":0.0},{"t":"2007-10-03","v":0.32},{"t":"2007-10-04","v":0.48},{"t":"2007-10-05","v":0.48},{"t":"2007-10-07","v":0.0},{"t":"2007-10-10","v":-0.02},{"t":"2007-10-14","v":0.0},{"t":"2007-10-21","v":-0.02},{"t":"2007-10-27","v":-0.02},{"t":"2007-11-03","v":-0.03},{"t":"2007-11-07","v":-0.03},{"t":"2007-11-13","v":-0.05},{"t":"2007-11-20","v":-0.05},{"t":"2007-11-26","v":-0.05},{"t":"2007-12-03","v":-0.05},{"t":"2007-12-10","v":-0.05},{"t":"2007-12-16","v":-0.05},{"t":"2007-12-22","v":-0.05},{"t":"2007-12-29","v":-0.05},{"t":"2008-01-04","v":-0.05},{"t":"2008-01-09","v":-0.08},{"t":"2008-01-13","v":-0.07},{"t":"2008-01-16","v":-0.08},{"t":"2008-01-24","v":-0.06},{"t":"2008-01-26","v":-0.16},{"t":"2008-01-27","v":-0.1},{"t":"2008-01-31","v":-0.05},{"t":"2008-02-10","v":-0.38},{"t":"2008-02-16","v":-0.33},{"t":"2008-02-18","v":-0.45},{"t":"2008-02-21","v":-0.44},{"t":"2008-02-25","v":-0.24},{"t":"2008-02-28","v":0.03},{"t":"2008-03-01","v":0.07},{"t":"2008-03-05","v":-0.02},{"t":"2008-03-09","v":0.35},{"t":"2008-03-16","v":0.49},{"t":"2008-03-22","v":0.49},{"t":"2008-03-27","v":0.51},{"t":"2008-03-31","v":0.51},{"t":"2008-04-03","v":0.73},{"t":"2008-04-10","v":0.75},{"t":"2008-04-17","v":0.91},{"t":"2008-04-23","v":0.85},{"t":"2008-04-30","v":0.97},{"t":"2008-05-07","v":1.01},{"t":"2008-05-10","v":1.14},{"t":"2008-05-13","v":1.05},{"t":"2008-05-15","v":1.33},{"t":"2008-05-20","v":1.33},{"t":"2008-05-24","v":1.33},{"t":"2008-05-31","v":1.46},{"t":"2008-06-10","v":1.43},{"t":"2008-06-17","v":2.13},{"t":"2008-06-23","v":2.25},{"t":"2008-06-27","v":2.2},{"t":"2008-07-01","v":2.19},{"t":"2008-07-06","v":2.35},{"t":"2008-07-10","v":2.42},{"t":"2008-07-15","v":2.55}]},
                 "mark": {"type": "line", "color": "#ff00ff", "strokeWidth": 1.2, "strokeDash": [6, 4], "point": {"shape": "square", "filled": true, "size": 45, "color": "#ff00ff"}},
                 "encoding": {"x": {"field": "t", "type": "temporal"}, "y": {"field": "v", "type": "quantitative"}}},
                {"data": {"values": [{"t":"2007-10-02","v":0.0},{"t":"2007-10-05","v":0.02},{"t":"2007-10-10","v":0.02},{"t":"2007-10-14","v":0.02},{"t":"2007-10-21","v":0.03},{"t":"2007-10-27","v":0.03},{"t":"2007-11-03","v":0.03},{"t":"2007-11-07","v":0.03},{"t":"2007-11-13","v":0.03},{"t":"2007-11-20","v":0.03},{"t":"2007-11-26","v":0.03},{"t":"2007-12-03","v":0.04},{"t":"2007-12-10","v":0.04},{"t":"2007-12-16","v":0.04},{"t":"2007-12-22","v":0.05},{"t":"2007-12-29","v":0.05},{"t":"2008-01-04","v":0.06},{"t":"2008-01-09","v":0.08},{"t":"2008-01-13","v":0.06},{"t":"2008-01-16","v":0.06},{"t":"2008-01-24","v":0.06},{"t":"2008-01-27","v":0.08},{"t":"2008-01-31","v":0.08},{"t":"2008-02-10","v":0.03},{"t":"2008-02-16","v":0.05},{"t":"2008-02-18","v":0.0},{"t":"2008-02-21","v":0.03},{"t":"2008-02-25","v":0.24},{"t":"2008-02-28","v":0.62},{"t":"2008-03-01","v":0.68},{"t":"2008-03-05","v":0.68},{"t":"2008-03-09","v":1.05},{"t":"2008-03-16","v":1.2},{"t":"2008-03-22","v":1.22},{"t":"2008-03-27","v":1.23},{"t":"2008-03-31","v":1.24},{"t":"2008-04-03","v":1.57},{"t":"2008-04-10","v":1.63},{"t":"2008-04-17","v":1.71},{"t":"2008-04-23","v":1.79},{"t":"2008-04-30","v":1.95},{"t":"2008-05-07","v":2.05},{"t":"2008-05-10","v":2.26},{"t":"2008-05-13","v":2.15},{"t":"2008-05-15","v":2.42},{"t":"2008-05-20","v":2.5},{"t":"2008-05-24","v":2.59},{"t":"2008-05-31","v":2.89},{"t":"2008-06-10","v":2.94},{"t":"2008-06-17","v":3.69},{"t":"2008-06-23","v":3.91},{"t":"2008-06-27","v":3.76},{"t":"2008-07-01","v":3.85},{"t":"2008-07-06","v":4.09},{"t":"2008-07-10","v":4.25},{"t":"2008-07-15","v":4.42}]},
                 "mark": {"type": "line", "color": "#f00000", "strokeWidth": 1.2, "point": {"shape": "diamond", "filled": true, "size": 30, "color": "#f00000"}},
                 "encoding": {"x": {"field": "t", "type": "temporal"}, "y": {"field": "v", "type": "quantitative"}}},
                {"data": {"values": [{"t":"2007-09-06","v":1.45,"label":"I"},{"t":"2007-11-04","v":1.45,"label":"II"},{"t":"2008-02-01","v":1.33,"label":"III"},{"t":"2008-06-22","v":1.22,"label":"IV"}]},
                 "mark": {"type": "text", "fontSize": 36, "align": "center", "baseline": "middle"},
                 "encoding": {"x": {"field": "t", "type": "temporal"}, "y": {"field": "v", "type": "quantitative"}, "text": {"field": "label"}}},
                {"data": {"values": [{"t":"2008-01-27","v":2.48,"label":"Excavation curve"},{"t":"2008-04-18","v":2.31,"label":"0.1m"},{"t":"2008-04-20","v":1.28,"label":"5.8m"},{"t":"2008-04-17","v":0.33,"label":"18.3m"}]},
                 "mark": {"type": "text", "fontSize": 27, "align": "center", "baseline": "middle"},
                 "encoding": {"x": {"field": "t", "type": "temporal"}, "y": {"field": "v", "type": "quantitative"}, "text": {"field": "label"}}},
                {"data": {"values": [{"t":"2007-09-27","v":3.17,"label":"1664.8"},{"t":"2007-10-16","v":2.14,"label":"1661.75"},{"t":"2007-12-25","v":1.78,"label":"1659.98"},{"t":"2008-02-15","v":0.81,"label":"1654.53"},{"t":"2008-06-04","v":-0.71,"label":"1646.53"}]},
                 "mark": {"type": "text", "font": "Liberation Sans", "fontSize": 12, "color": "#444", "align": "center", "baseline": "middle"},
                 "encoding": {"x": {"field": "t", "type": "temporal"}, "y": {"field": "v", "type": "quantitative"}, "text": {"field": "label"}}},
                {"data": {"values": [{"t":"2008-06-20","v":3.6}]},
                 "mark": {"type": "point", "shape": "circle", "filled": false, "size": 22500, "stroke": "#000", "strokeWidth": 4.5, "opacity": 1},
                 "encoding": {"x": {"field": "t", "type": "temporal"}, "y": {"field": "v", "type": "quantitative"}}},
                {"data": {"values": [{"t":"2007-09-01","v":5,"label":"C"}]},
                 "mark": {"type": "text", "font": "Liberation Sans", "fontWeight": "bold", "fontSize": 24, "color": "#000", "align": "center", "baseline": "middle", "dx": -54, "dy": 10},
                 "encoding": {"x": {"field": "t", "type": "temporal"}, "y": {"field": "v", "type": "quantitative"}, "text": {"field": "label"}}}
              ]
            },
            {"data": {"values": [{"t":"2007-09-01","e":1664.8},{"t":"2007-09-25","e":1664.8},{"t":"2007-10-25","e":1661.75},{"t":"2007-12-08","e":1661.75},{"t":"2007-12-30","e":1659.98},{"t":"2008-01-25","e":1659.98},{"t":"2008-02-24","e":1654.53},{"t":"2008-05-30","e":1654.53},{"t":"2008-06-25","e":1646.53},{"t":"2008-07-20","e":1646.53}]},
             "mark": {"type": "line", "color": "#000", "strokeWidth": 2},
             "encoding": {"x": {"field": "t", "type": "temporal"}, "y": {"field": "e", "type": "quantitative", "scale": {"domain": [1645, 1675], "nice": false, "zero": false}, "axis": {"orient": "right", "values": [1645, 1650, 1655, 1660, 1665, 1670, 1675], "format": "d", "title": "elevation（m）", "grid": false, "labelPadding": 10, "titlePadding": 10}}}}
          ]
        }
      ]
    }
  ]
}
